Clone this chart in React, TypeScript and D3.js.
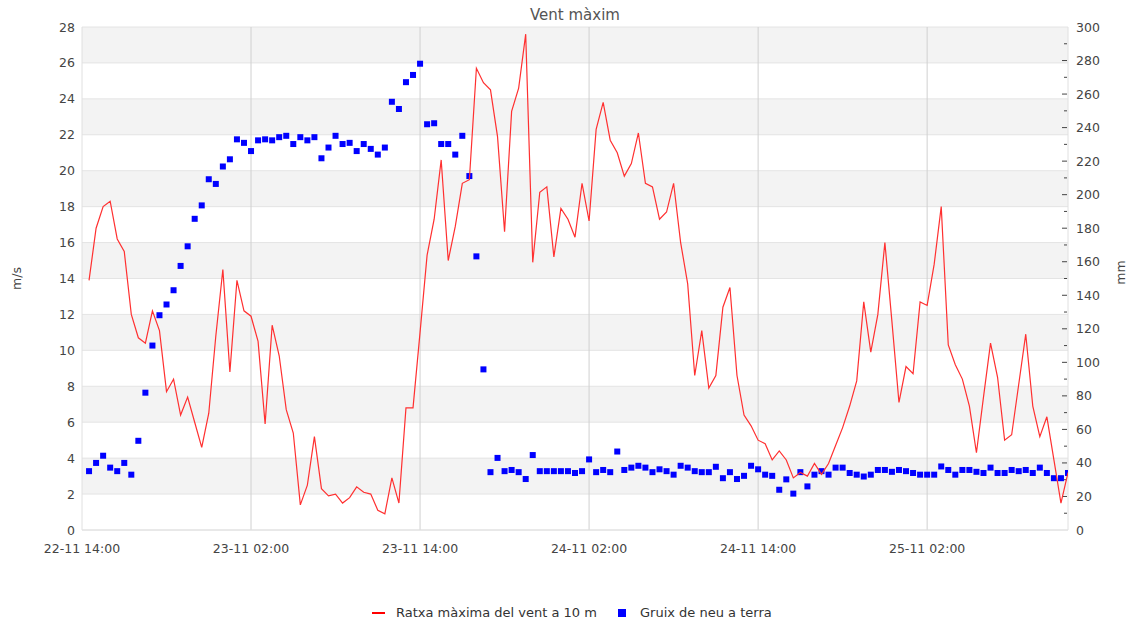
import React from "react";
import * as d3 from "d3";

const TITLE = "Vent màxim";
const SERIES_WIND = "Ratxa màxima del vent a 10 m";
const SERIES_SNOW = "Gruix de neu a terra";
const START_TIME = new Date(2022, 10, 22, 14, 30);
const STEP_MINUTES = 30;
const X_DOMAIN = [new Date(2022, 10, 22, 14, 0), new Date(2022, 10, 25, 12, 0)];
const X_TICK_HOURS = [0, 12, 24, 36, 48, 60];
const LEFT_TICKS = [0, 2, 4, 6, 8, 10, 12, 14, 16, 18, 20, 22, 24, 26, 28];
const RIGHT_TICKS = [0, 20, 40, 60, 80, 100, 120, 140, 160, 180, 200, 220, 240, 260, 280, 300];

const windGust = [
  13.9, 16.8, 18.0, 18.3, 16.2, 15.5, 12.0, 10.7, 10.4, 12.2,
  11.1, 7.7, 8.4, 6.4, 7.4, 6.0, 4.6, 6.5, 10.8, 14.5,
  8.8, 13.9, 12.2, 11.9, 10.5, 5.9, 11.4, 9.7, 6.7, 5.4,
  1.4, 2.5, 5.2, 2.3, 1.9, 2.0, 1.5, 1.8, 2.4, 2.1,
  2.0, 1.1, 0.9, 2.9, 1.5, 6.8, 6.8, 11.0, 15.3, 17.3,
  20.6, 15.0, 16.9, 19.3, 19.5, 25.7, 24.9, 24.5, 21.9, 16.6,
  23.3, 24.6, 27.6, 14.9, 18.8, 19.1, 15.2, 17.9, 17.3, 16.3,
  19.3, 17.2, 22.3, 23.8, 21.7, 21.0, 19.7, 20.4, 22.1, 19.3,
  19.1, 17.3, 17.7, 19.3, 16.0, 13.7, 8.6, 11.1, 7.9, 8.6,
  12.4, 13.5, 8.6, 6.4, 5.8, 5.0, 4.8, 3.9, 4.4, 3.9,
  2.9, 3.2, 3.0, 3.7, 3.1, 3.7, 4.7, 5.7, 6.9, 8.3,
  12.7, 9.9, 12.0, 16.0, 11.6, 7.1, 9.1, 8.7, 12.7, 12.5,
  14.8, 18.0, 10.3, 9.2, 8.4, 6.9, 4.3, 7.4, 10.4, 8.5,
  5.0, 5.3, 8.1, 10.9, 6.9, 5.2, 6.3, 3.9, 1.5, 3.2,
];

const snowDepth = [
  35.1, 40.0, 44.3, 37.2, 35.1, 40.0, 33.0, 53.2, 81.9, 110.0,
  128.1, 134.5, 143.0, 157.5, 169.2, 185.6, 193.6, 209.2, 206.4, 216.8,
  221.1, 233.0, 230.9, 226.0, 232.4, 233.0, 232.4, 234.3, 235.1, 230.2,
  234.3, 232.4, 234.3, 221.7, 228.1, 235.1, 230.2, 230.9, 226.0, 230.2,
  227.3, 223.9, 228.1, 255.4, 251.1, 267.1, 271.4, 278.1, 242.0, 242.6,
  230.2, 230.2, 223.9, 235.1, 211.1, 163.2, 95.8, 34.5, 43.0, 35.1,
  35.8, 34.5, 30.4, 44.7, 35.1, 35.1, 35.1, 35.1, 35.1, 34.0,
  35.1, 42.1, 34.5, 35.8, 34.5, 46.8, 35.8, 37.2, 38.3, 37.2,
  34.5, 36.2, 35.1, 33.0, 38.3, 37.2, 35.1, 34.5, 34.5, 37.7,
  30.9, 34.5, 30.4, 32.3, 38.3, 36.2, 33.0, 32.3, 24.0, 30.2,
  21.7, 34.5, 26.0, 33.0, 35.1, 33.0, 37.2, 37.2, 34.0, 33.0,
  31.9, 33.0, 35.8, 35.8, 34.7, 35.8, 35.1, 34.0, 33.0, 33.0,
  33.0, 37.9, 35.8, 33.0, 35.8, 35.8, 34.7, 34.0, 37.2, 34.0,
  34.0, 35.8, 35.1, 35.8, 34.0, 37.2, 34.0, 30.9, 30.9, 34.0,
];

const W = 1131;
const H = 622;
const M = { left: 82, right: 1068, top: 27, bottom: 530 };
const FONT = "DejaVu Sans, sans-serif";

export default function App() {
  const times = windGust.map((_, i) => d3.timeMinute.offset(START_TIME, i * STEP_MINUTES));
  const x = d3.scaleTime().domain(X_DOMAIN).range([M.left, M.right]);
  const yL = d3.scaleLinear().domain([0, 28]).range([M.bottom, M.top]);
  const yR = d3.scaleLinear().domain([0, 300]).range([M.bottom, M.top]);
  const xTicks = X_TICK_HOURS.map((h) => d3.timeHour.offset(X_DOMAIN[0], h));
  const fmt = d3.timeFormat("%d-%m %H:%M");
  const line = d3
    .line<number>()
    .x((_, i) => x(times[i]))
    .y((d) => yL(d));
  const minorR = d3.range(10, 300, 20);
  const grayBands = LEFT_TICKS.filter((t) => t % 4 === 2);

  return (
    <svg
      width={W}
      height={H}
      style={{ position: "absolute", left: 0, top: 0, background: "#fff" }}
      fontFamily={FONT}
    >
      <defs>
        <clipPath id="plotClip">
          <rect x={M.left} y={M.top - 5} width={M.right - M.left} height={M.bottom - M.top + 10} />
        </clipPath>
      </defs>
      <text x={575} y={20} textAnchor="middle" fontSize={15} fill="#555">
        {TITLE}
      </text>
      {grayBands.map((b) => (
        <rect
          key={b}
          x={M.left}
          y={yL(b + 2)}
          width={M.right - M.left}
          height={yL(b) - yL(b + 2)}
          fill="#f3f3f3"
        />
      ))}
      {LEFT_TICKS.map((t) => (
        <line key={"h" + t} x1={M.left} x2={M.right} y1={yL(t)} y2={yL(t)} stroke="#e4e4e4" strokeWidth={1} />
      ))}
      {xTicks.map((t, i) => (
        <line
          key={"v" + i}
          x1={x(t)}
          x2={x(t)}
          y1={M.top}
          y2={M.bottom}
          stroke={i === 0 ? "#e0e0e0" : "#d0d0d0"}
          strokeWidth={1}
        />
      ))}
      <line x1={M.right} x2={M.right} y1={M.top} y2={M.bottom} stroke="#e0e0e0" />
      <line x1={M.left} x2={M.right} y1={M.bottom} y2={M.bottom} stroke="#e0e0e0" />
      {LEFT_TICKS.map((t) => (
        <text key={"l" + t} x={75} y={yL(t) + 4.5} textAnchor="end" fontSize={12.5} fill="#444">
          {t}
        </text>
      ))}
      {RIGHT_TICKS.map((t) => (
        <g key={"r" + t}>
          {t > 0 && t < 300 && (
            <line x1={M.right - 6} x2={M.right - 1} y1={yR(t)} y2={yR(t)} stroke="#444" />
          )}
          <text x={1076} y={yR(t) + 4.5} textAnchor="start" fontSize={12.5} fill="#444">
            {t}
          </text>
        </g>
      ))}
      {minorR.map((t) => (
        <line key={"m" + t} x1={M.right - 4} x2={M.right - 1} y1={yR(t)} y2={yR(t)} stroke="#444" />
      ))}
      {xTicks.map((t, i) => (
        <text key={"xl" + i} x={x(t)} y={553} textAnchor="middle" fontSize={12.5} fill="#444">
          {fmt(t)}
        </text>
      ))}
      <text transform={`translate(21,${(M.top + M.bottom) / 2}) rotate(-90)`} textAnchor="middle" fontSize={12.5} fill="#444">
        m/s
      </text>
      <text transform={`translate(1125,${(M.top + M.bottom) / 2 - 6}) rotate(-90)`} textAnchor="middle" fontSize={12.5} fill="#444">
        mm
      </text>
      <g clipPath="url(#plotClip)">
        {snowDepth.map((d, i) => (
          <rect key={"s" + i} x={x(times[i]) - 3} y={yR(d) - 3} width={6} height={6} fill="#0000ff" />
        ))}
        <path d={line(windGust) || ""} fill="none" stroke="#ff3030" strokeWidth={1.2} />
      </g>
      <line x1={372} x2={385} y1={613} y2={613} stroke="#ff0000" strokeWidth={2} />
      <text x={396} y={617} fontSize={13} fill="#333">
        {SERIES_WIND}
      </text>
      <rect x={618} y={609} width={8} height={8} fill="#0000ff" />
      <text x={640} y={617} fontSize={13} fill="#333">
        {SERIES_SNOW}
      </text>
    </svg>
  );
}
